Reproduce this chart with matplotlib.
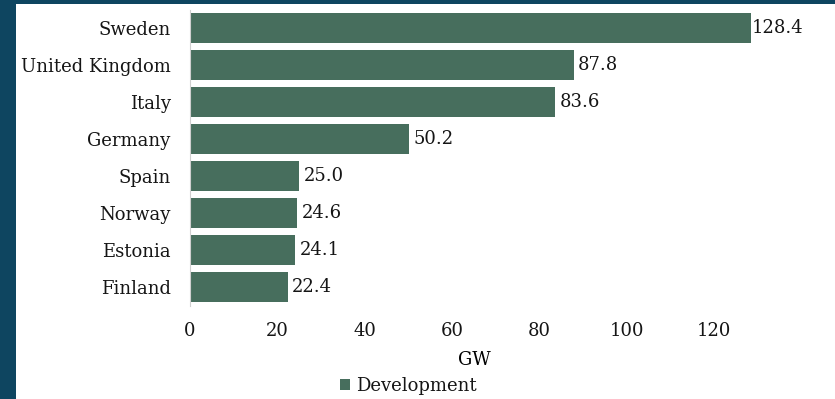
import matplotlib.pyplot as plt

countries = ['Sweden', 'United Kingdom', 'Italy', 'Germany', 'Spain', 'Norway', 'Estonia', 'Finland']
development = [128.4, 87.8, 83.6, 50.2, 25.0, 24.6, 24.1, 22.4]
xticks = [0, 20, 40, 60, 80, 100, 120]

bar_color = '#476e5d'
border_color = '#0e4560'
fs = 13

plt.rcParams['font.family'] = ['DejaVu Serif']
plt.rcParams['text.color'] = '#151515'

fig = plt.figure(figsize=(8.35, 3.99), dpi=100)
fig.patch.set_facecolor(border_color)
# white panel inside the dark frame
fig.patches.append(plt.Rectangle((16 / 835, 0), 1, 1 - 4 / 399, transform=fig.transFigure,
                                 facecolor='white', edgecolor='none', zorder=-5))

ax = fig.add_axes([190 / 835, 1 - 305.5 / 399, (758 - 190) / 835, (305.5 - 9.5) / 399])
ax.set_facecolor('white')

y = list(range(len(countries)))
bars = ax.barh(y, development, height=0.81, color=bar_color, label='Development')
for b, v in zip(bars, development):
    ax.annotate(f'{v:.1f}', (b.get_width(), b.get_y() + b.get_height() / 2),
                xytext=(3 if v < 100 else 0.3, 0), textcoords='offset points',
                va='center', ha='left', fontsize=fs, annotation_clip=False)

ax.set_xlim(0, 130)
ax.set_ylim(len(countries) - 0.5, -0.5)
ax.set_yticks(y)
ax.set_yticklabels(countries, fontsize=fs)
ax.set_xticks(xticks)
ax.set_xticklabels([str(t) for t in xticks], fontsize=fs)
ax.tick_params(axis='both', length=0, colors='#151515')
ax.tick_params(axis='x', pad=12)
ax.tick_params(axis='y', pad=14)
for s in ['top', 'right', 'bottom']:
    ax.spines[s].set_visible(False)
ax.spines['left'].set_color('#d0d0d0')
ax.spines['left'].set_linewidth(0.8)

ax.set_xlabel('GW', fontsize=fs, labelpad=8)

fig.legend(handles=[bars], labels=['Development'], loc='center',
           bbox_to_anchor=(408 / 835, 1 - 386 / 399), frameon=False,
           fontsize=fs, handlelength=0.6, handleheight=0.6, handletextpad=0.3,
           borderpad=0.1)

fig.savefig('out.png', dpi=100, facecolor=fig.get_facecolor())
